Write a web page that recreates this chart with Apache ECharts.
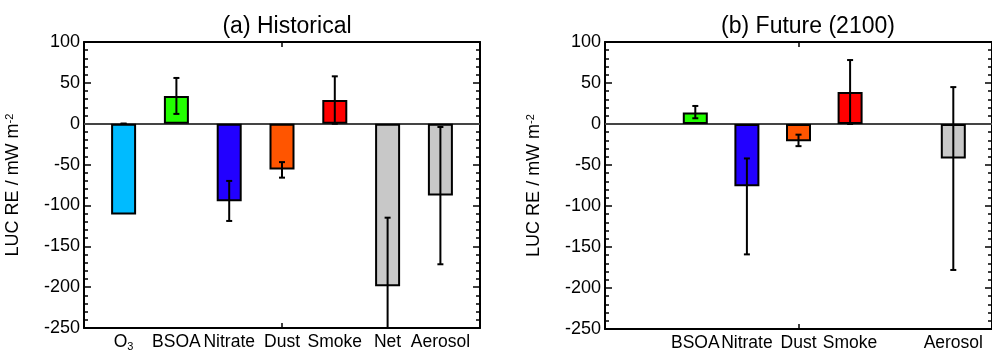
<!DOCTYPE html>
<html>
<head>
<meta charset="utf-8">
<script src="https://cdn.jsdelivr.net/npm/echarts@6/dist/echarts.min.js"></script>
<style>
html,body{margin:0;padding:0;background:#fff;}
#c{width:992px;height:352px;}
</style>
</head>
<body>
<div id="c"></div>
<script>
// ---- Data ----
var categories = ['O3', 'BSOA', 'Nitrate', 'Dust', 'Smoke', 'Net', 'Aerosol'];
var colors = ['#00BBFF', '#22FF00', '#2200FF', '#FF5500', '#FF0000', '#C8C8C8', '#C8C8C8'];
var titles = ['(a) Historical', '(b) Future (2100)'];
var yTicks = [-250, -200, -150, -100, -50, 0, 50, 100];

// Historical values (null = not shown)
var histValues = [-111, 34, -95, -56, 29, -199, -88];
var histErrLow = [0, 12, -119, -66, 0, -283, -172];
var histErrHigh = [0, 56, -70, -47, 58, -115, -4];

// Future (2100) values
var futValues = [null, 14, -76, -21, 39, null, -42];
var futErrLow = [null, 7, -159, -27, 0, null, -178];
var futErrHigh = [null, 22, -42, -13, 78, null, 45];

// ---- Build chart ----
var FONT = 'Liberation Sans, Arial, Helvetica, sans-serif';
var grids = [
  {left: 84, top: 42, width: 396, height: 292},
  {left: 605, top: 42, width: 396, height: 292}
];

function barData(vals) {
  var out = [];
  vals.forEach(function (v, i) {
    if (v !== null) out.push({value: [i + 1, v], itemStyle: {color: colors[i]}});
  });
  return out;
}
function errData(lo, hi) {
  var out = [];
  lo.forEach(function (v, i) {
    if (v !== null) out.push([i + 1, lo[i], hi[i]]);
  });
  return out;
}
function labelPositions(vals) {
  var out = [];
  vals.forEach(function (v, i) { if (v !== null) out.push(i + 1); });
  return out;
}

var option = {
  animation: false,
  textStyle: {fontFamily: FONT, color: '#000'},
  title: titles.map(function (t, k) {
    return {
      text: t,
      left: grids[k].left + grids[k].width / 2,
      textAlign: 'center',
      top: 10,
      textStyle: {fontFamily: FONT, fontSize: 23, fontWeight: 'normal', color: '#000'}
    };
  }),
  grid: grids,
  xAxis: [],
  yAxis: [],
  series: []
};

[0, 1].forEach(function (k) {
  var vals = k === 0 ? histValues : futValues;
  var lo = k === 0 ? histErrLow : futErrLow;
  var hi = k === 0 ? histErrHigh : futErrHigh;
  // bottom x axis
  option.xAxis.push({
    type: 'value', gridIndex: k, position: 'bottom', min: 0.25, max: 7.75,
    splitLine: {show: false},
    axisLine: {show: true, onZero: false, lineStyle: {color: '#000', width: 2}},
    axisTick: {show: true, inside: true, length: 5, customValues: [4], lineStyle: {color: '#000', width: 1.5}},
    axisLabel: {
      show: true, margin: 5, customValues: labelPositions(vals),
      fontFamily: FONT, fontSize: 17.5, color: '#000',
      formatter: function (v) {
        var name = categories[Math.round(v) - 1];
        if (name === 'O3') return '{n|O}{s|3}';
        return name;
      },
      rich: {
        n: {fontFamily: FONT, fontSize: 17.5, color: '#000'},
        s: {fontFamily: FONT, fontSize: 11, color: '#000', verticalAlign: 'bottom', padding: [8, 0, 0, 0]}
      }
    }
  });
  // top x axis (border + tick)
  option.xAxis.push({
    type: 'value', gridIndex: k, position: 'top', min: 0.25, max: 7.75,
    splitLine: {show: false},
    axisLine: {show: true, onZero: false, lineStyle: {color: '#000', width: 2}},
    axisTick: {show: true, inside: true, length: 5, customValues: [4], lineStyle: {color: '#000', width: 1.5}},
    axisLabel: {show: false}
  });
  // left y axis
  option.yAxis.push({
    type: 'value', gridIndex: k, position: 'left', min: -250, max: 100, interval: 50,
    name: 'LUC RE / mW m{sup|-2}', nameLocation: 'middle', nameGap: 61, nameRotate: 90,
    nameTextStyle: {fontFamily: FONT, fontSize: 18, color: '#000',
      rich: {sup: {fontFamily: FONT, fontSize: 11, color: '#000', verticalAlign: 'top', padding: [0, 0, 8, 0]}}},
    splitLine: {show: false},
    axisLine: {show: true, onZero: false, lineStyle: {color: '#000', width: 2}},
    axisTick: {show: true, inside: true, length: 7, lineStyle: {color: '#000', width: 1.5}},
    minorTick: {show: true, splitNumber: 5, length: 4, lineStyle: {color: '#000', width: 1.5}},
    axisLabel: {show: true, margin: 4, fontFamily: FONT, fontSize: 18, color: '#000'}
  });
  // right y axis (mirrored ticks)
  option.yAxis.push({
    type: 'value', gridIndex: k, position: 'right', min: -250, max: 100, interval: 50,
    splitLine: {show: false},
    axisLine: {show: true, onZero: false, lineStyle: {color: '#000', width: 2}},
    axisTick: {show: true, inside: true, length: 7, lineStyle: {color: '#000', width: 1.5}},
    minorTick: {show: true, splitNumber: 5, length: 4, lineStyle: {color: '#000', width: 1.5}},
    axisLabel: {show: false}
  });
  // bars
  option.series.push({
    type: 'bar', xAxisIndex: k * 2, yAxisIndex: k * 2,
    barWidth: 25,
    data: barData(vals),
    itemStyle: {borderColor: '#000', borderWidth: 2},
    markLine: {
      silent: true, symbol: 'none', label: {show: false},
      lineStyle: {color: '#444', width: 2, type: 'solid'},
      data: [{yAxis: 0}],
      z: 1
    },
    z: 2
  });
  // error bars
  option.series.push({
    type: 'custom', xAxisIndex: k * 2, yAxisIndex: k * 2,
    clip: true,
    encode: {x: 0, y: [1, 2]},
    data: errData(lo, hi),
    z: 5,
    renderItem: function (params, api) {
      var x = api.value(0);
      var pLo = api.coord([x, api.value(1)]);
      var pHi = api.coord([x, api.value(2)]);
      var hw = 3;
      var st = {stroke: '#000', lineWidth: 2};
      return {
        type: 'group',
        children: [
          {type: 'line', shape: {x1: pLo[0], y1: pLo[1], x2: pHi[0], y2: pHi[1]}, style: st},
          {type: 'line', shape: {x1: pLo[0] - hw, y1: pLo[1], x2: pLo[0] + hw, y2: pLo[1]}, style: st},
          {type: 'line', shape: {x1: pHi[0] - hw, y1: pHi[1], x2: pHi[0] + hw, y2: pHi[1]}, style: st}
        ]
      };
    }
  });
});

var chart = echarts.init(document.getElementById('c'), null, {renderer: 'canvas'});
chart.setOption(option);
</script>
</body>
</html>
